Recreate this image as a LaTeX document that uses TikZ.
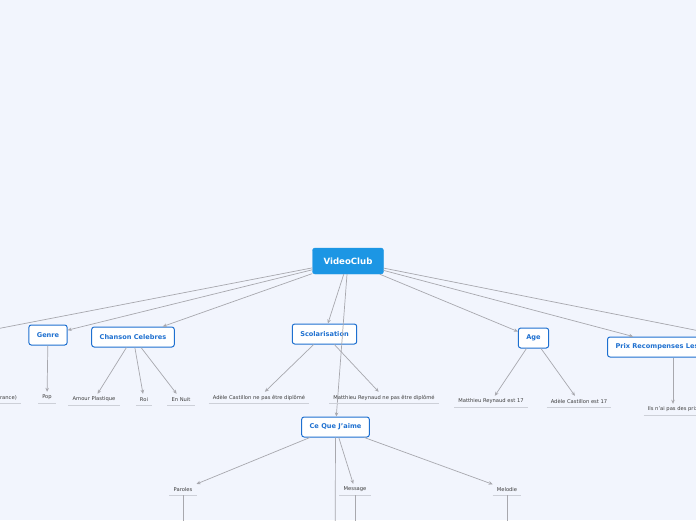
\documentclass[tikz,border=0pt]{standalone}
\usepackage{fontspec}
\setmainfont{DejaVu Sans}
\usetikzlibrary{arrows.meta}
\definecolor{bgblue}{RGB}{242,245,253}
\definecolor{rootblue}{RGB}{28,150,228}
\definecolor{topicblue}{RGB}{30,112,208}
\definecolor{linegray}{RGB}{168,168,174}
\definecolor{leafgray}{RGB}{60,60,60}
\definecolor{rulegray}{RGB}{205,208,216}

\begin{document}
\begin{tikzpicture}[x=1pt, y=-1pt,
  root/.style={draw=rootblue, fill=rootblue, rounded corners=2.5pt,
    minimum width=71pt, minimum height=26pt,
    font=\fontsize{8.6}{9}\selectfont\bfseries, text=white},
  topic/.style={draw=topicblue, line width=1pt, fill=white, rounded corners=2.5pt,
    minimum height=20pt, inner xsep=8pt, inner ysep=0pt,
    font=\fontsize{6.6}{7}\selectfont\bfseries, text=topicblue},
  leaf/.style={font=\fontsize{5.2}{5.5}\selectfont, text=leafgray,
    minimum height=11pt, inner xsep=4pt, inner ysep=0pt,
    append after command={(\tikzlastnode.south west) edge[rule] (\tikzlastnode.south east)}},
  rule/.style={draw=rulegray, line width=0.8pt},
  edge/.style={draw=linegray, line width=0.7pt, -{Stealth[length=4pt, width=3.5pt]}},
  tail/.style={draw=linegray, line width=0.7pt},
]
  \path[use as bounding box] (0,0) rectangle (696,520);
  \clip (0,0) rectangle (696,520);
  \fill[bgblue] (0,0) rectangle (696,520);

  % Root
  \node[root] (root) at (348,261) {VideoClub};

  % Topics
  \coordinate (farleft) at (-40,336);
  \node[topic] (genre) at (48,335) {Genre};
  \node[topic] (chanson) at (133,337) {Chanson Celebres};
  \node[topic] (scolar) at (324.5,334) {Scolarisation};
  \node[topic] (jaime) at (335.5,427) {Ce Que J'aime};
  \node[topic] (age) at (533.5,338) {Age};
  \node[topic, anchor=west] (prix) at (607,347) {Prix Recompenses Les Artistes};
  \coordinate (farright) at (760,343);

  \draw[edge] (root) -- (farleft);
  \draw[edge] (root) -- (genre);
  \draw[edge] (root) -- (chanson);
  \draw[edge] (root) -- (scolar);
  \draw[edge] (root) -- (jaime);
  \draw[edge] (root) -- (age);
  \draw[edge] (root) -- (prix);
  \draw[edge] (root) -- (farright);

  % Leaves
  \node[leaf, anchor=east] (origine) at (21,397.5) {(France)};
  \node[leaf] (pop) at (47,397.5) {Pop};
  \node[leaf] (amour) at (94,399.5) {Amour Plastique};
  \node[leaf] (roi) at (144,399.5) {Roi};
  \node[leaf] (ennuit) at (181,399.5) {En Nuit};
  \node[leaf] (adeledip) at (259,397.5) {Adèle Castillon ne pas être diplômé};
  \node[leaf] (matdip) at (384,397.5) {Matthieu Reynaud ne pas être diplômé};
  \node[leaf] (matage) at (491,401.5) {Matthieu Reynaud est 17};
  \node[leaf] (adeleage) at (579,401.5) {Adèle Castillon est 17};
  \node[leaf] (ils) at (673,409.5) {Ils n'ai pas des prix};
  \node[leaf] (paroles) at (183,489.5) {Paroles};
  \node[leaf] (message) at (355,489.5) {Message};
  \node[leaf] (melodie) at (507,489.5) {Melodie};

  \draw[edge] (genre) -- (pop);
  \draw[edge] (chanson) -- (amour);
  \draw[edge] (chanson) -- (roi);
  \draw[edge] (chanson) -- (ennuit);
  \draw[edge] (scolar) -- (adeledip);
  \draw[edge] (scolar) -- (matdip);
  \draw[edge] (age) -- (matage);
  \draw[edge] (age) -- (adeleage);
  \draw[edge] (prix.south -| ils) -- (ils);
  \draw[edge] (jaime) -- (paroles);
  \draw[edge] (jaime) -- (message);
  \draw[edge] (jaime) -- (melodie);

  % Branches running off the page
  \coordinate (jaimelow) at (335,600);
  \coordinate (paroleslow) at (183,600);
  \coordinate (messagelow) at (355,600);
  \coordinate (melodielow) at (507,600);
  \draw[tail] (jaime) -- (jaimelow);
  \draw[tail] (paroles) -- (paroleslow);
  \draw[tail] (message) -- (messagelow);
  \draw[tail] (melodie) -- (melodielow);
\end{tikzpicture}
\end{document}
